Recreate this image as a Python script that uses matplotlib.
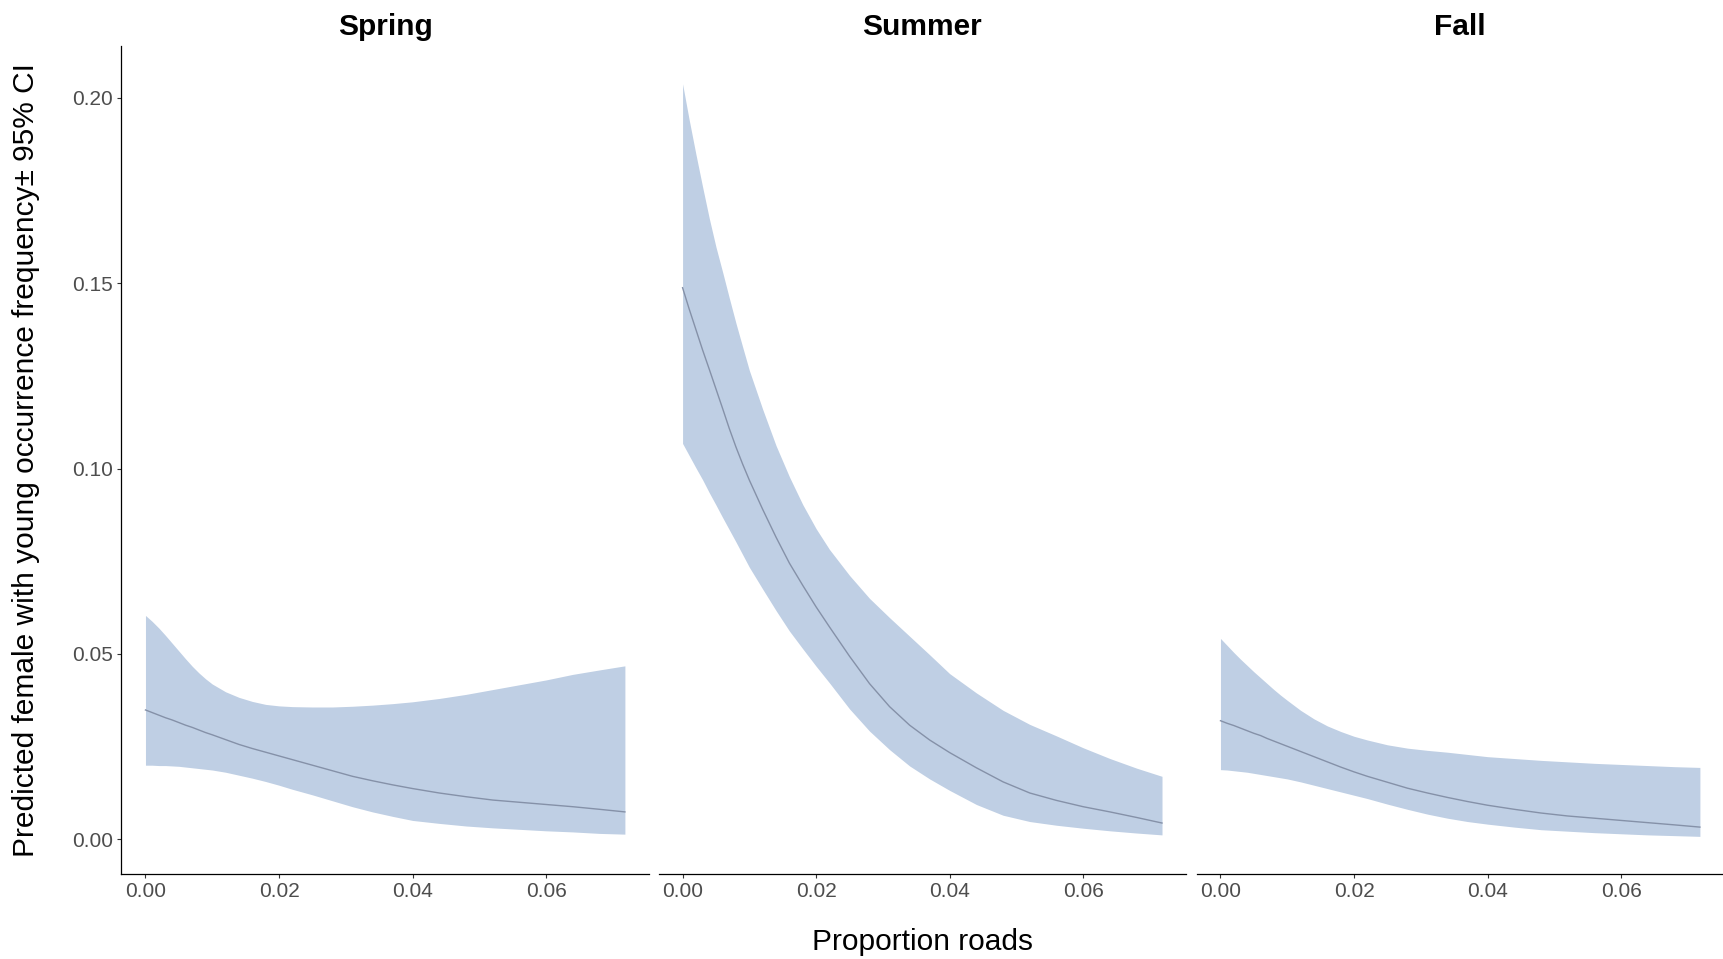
import matplotlib
matplotlib.use("Agg")
import matplotlib.pyplot as plt
import numpy as np

plt.rcParams['font.family'] = ['Liberation Sans', 'DejaVu Sans']

# ---- data ----
seasons = ["Spring", "Summer", "Fall"]
roads = [0, 0.001, 0.002, 0.003, 0.004, 0.005, 0.006, 0.007, 0.008, 0.009,
         0.010, 0.012, 0.014, 0.016, 0.018, 0.020, 0.022, 0.025, 0.028, 0.031,
         0.034, 0.037, 0.040, 0.044, 0.048, 0.052, 0.056, 0.060, 0.064, 0.068, 0.0718]

spring_fit = [0.0349, 0.0342, 0.0335, 0.0328, 0.0322, 0.0315, 0.0308, 0.0302, 0.0295, 0.0288,
              0.0282, 0.0269, 0.0256, 0.0245, 0.0235, 0.0225, 0.0215, 0.0200, 0.0185, 0.0170,
              0.0158, 0.0147, 0.0137, 0.0125, 0.0115, 0.0106, 0.0100, 0.0094, 0.0088, 0.0081, 0.0074]
spring_hi = [0.0604, 0.0588, 0.0570, 0.0550, 0.0529, 0.0508, 0.0487, 0.0467, 0.0449, 0.0433,
             0.0419, 0.0398, 0.0383, 0.0372, 0.0364, 0.0360, 0.0358, 0.0357, 0.0357, 0.0359,
             0.0362, 0.0366, 0.0371, 0.0380, 0.0391, 0.0404, 0.0417, 0.0430, 0.0445, 0.0457, 0.0468]
spring_lo = [0.0200, 0.0200, 0.0199, 0.0199, 0.0198, 0.0197, 0.0195, 0.0193, 0.0191, 0.0189,
             0.0187, 0.0181, 0.0173, 0.0165, 0.0156, 0.0146, 0.0135, 0.0120, 0.0104, 0.0088,
             0.0074, 0.0062, 0.0051, 0.0043, 0.0036, 0.0031, 0.0027, 0.0023, 0.0020, 0.0016, 0.0014]

summer_fit = [0.1488, 0.1430, 0.1375, 0.1320, 0.1268, 0.1215, 0.1162, 0.1108, 0.1058, 0.1012,
              0.0969, 0.0890, 0.0815, 0.0745, 0.0685, 0.0627, 0.0573, 0.0494, 0.0420, 0.0358,
              0.0308, 0.0268, 0.0234, 0.0193, 0.0155, 0.0125, 0.0105, 0.0088, 0.0074, 0.0059, 0.0044]
summer_hi = [0.2038, 0.1940, 0.1848, 0.1760, 0.1675, 0.1598, 0.1530, 0.1460, 0.1392, 0.1328,
             0.1265, 0.1160, 0.1062, 0.0978, 0.0903, 0.0838, 0.0782, 0.0712, 0.0650, 0.0598,
             0.0548, 0.0498, 0.0447, 0.0395, 0.0348, 0.0310, 0.0279, 0.0247, 0.0218, 0.0192, 0.0170]
summer_lo = [0.1068, 0.1035, 0.1002, 0.0970, 0.0935, 0.0902, 0.0868, 0.0835, 0.0802, 0.0768,
             0.0734, 0.0675, 0.0617, 0.0562, 0.0514, 0.0467, 0.0422, 0.0352, 0.0292, 0.0242,
             0.0198, 0.0163, 0.0132, 0.0094, 0.0065, 0.0048, 0.0038, 0.0030, 0.0023, 0.0017, 0.0012]

fall_fit = [0.0320, 0.0313, 0.0307, 0.0300, 0.0293, 0.0286, 0.0280, 0.0272, 0.0265, 0.0258,
            0.0251, 0.0237, 0.0223, 0.0209, 0.0195, 0.0182, 0.0170, 0.0154, 0.0138, 0.0125,
            0.0113, 0.0102, 0.0092, 0.0081, 0.0071, 0.0063, 0.0057, 0.0051, 0.0045, 0.0039, 0.0033]
fall_hi = [0.0542, 0.0523, 0.0504, 0.0486, 0.0469, 0.0452, 0.0436, 0.0420, 0.0404, 0.0389,
           0.0375, 0.0348, 0.0325, 0.0306, 0.0291, 0.0278, 0.0268, 0.0255, 0.0246, 0.0240,
           0.0235, 0.0229, 0.0223, 0.0218, 0.0213, 0.0209, 0.0205, 0.0202, 0.0199, 0.0196, 0.0194]
fall_lo = [0.0188, 0.0187, 0.0185, 0.0183, 0.0181, 0.0178, 0.0175, 0.0172, 0.0169, 0.0166,
           0.0163, 0.0155, 0.0146, 0.0137, 0.0128, 0.0119, 0.0110, 0.0095, 0.0081, 0.0068,
           0.0057, 0.0048, 0.0041, 0.0033, 0.0026, 0.0022, 0.0018, 0.0015, 0.0012, 0.0010, 0.0008]

fits = [spring_fit, summer_fit, fall_fit]
highs = [spring_hi, summer_hi, fall_hi]
lows = [spring_lo, summer_lo, fall_lo]

x_ticks = [0.00, 0.02, 0.04, 0.06]
x_tick_labels = ["0.00", "0.02", "0.04", "0.06"]
y_ticks = [0.00, 0.05, 0.10, 0.15, 0.20]
y_tick_labels = ["0.00", "0.05", "0.10", "0.15", "0.20"]

# ---- style ----
FILL = "#BFCFE4"
LINE = "#8591A8"
TICK_COL = "#4D4D4D"

W, H = 1724, 959
fig = plt.figure(figsize=(W / 100, H / 100), dpi=100)

bottom = 1 - 874 / H
top = 1 - 46.2 / H
height = top - bottom
width = 0.3059
lefts = [121.5 / W, 658.6 / W, 1196.5 / W]

# shared limits (ggplot default 5% expansion)
all_x = np.array(roads)
all_y = np.concatenate([np.array(h) for h in highs] + [np.array(l) for l in lows])
xr = all_x.max() - all_x.min()
yr = all_y.max() - all_y.min()
xlim = (all_x.min() - 0.05 * xr, all_x.max() + 0.05 * xr)
ylim = (all_y.min() - 0.05 * yr, all_y.max() + 0.05 * yr)

for i, season in enumerate(seasons):
    ax = fig.add_axes([lefts[i], bottom, width, height])
    ax.fill_between(roads, lows[i], highs[i], color=FILL, linewidth=0)
    ax.plot(roads, fits[i], color=LINE, linewidth=1.0)
    ax.set_xlim(*xlim)
    ax.set_ylim(*ylim)
    ax.spines['top'].set_visible(False)
    ax.spines['right'].set_visible(False)
    for s in ['left', 'bottom']:
        ax.spines[s].set_linewidth(0.9)
        ax.spines[s].set_color('black')
    ax.set_xticks(x_ticks)
    ax.set_xticklabels(x_tick_labels)
    ax.tick_params(axis='both', length=3, width=0.8, color='#333333',
                   labelsize=15, labelcolor=TICK_COL, pad=3)
    if i == 0:
        ax.set_yticks(y_ticks)
        ax.set_yticklabels(y_tick_labels)
    else:
        ax.spines['left'].set_visible(False)
        ax.set_yticks([])
    ax.set_title(season, fontsize=21.5, fontweight='bold', pad=8)

fig.text((121.5 + 1724) / 2 / W, 1 - 942 / H, "Proportion roads",
         fontsize=21.5, ha='center', va='center')
fig.text(26.4 / W, 1 - 460 / H,
         "Predicted female with young occurrence frequency\u00b1 95% CI",
         fontsize=21.5, ha='center', va='center', rotation=90)

fig.savefig("out.png", dpi=100)
